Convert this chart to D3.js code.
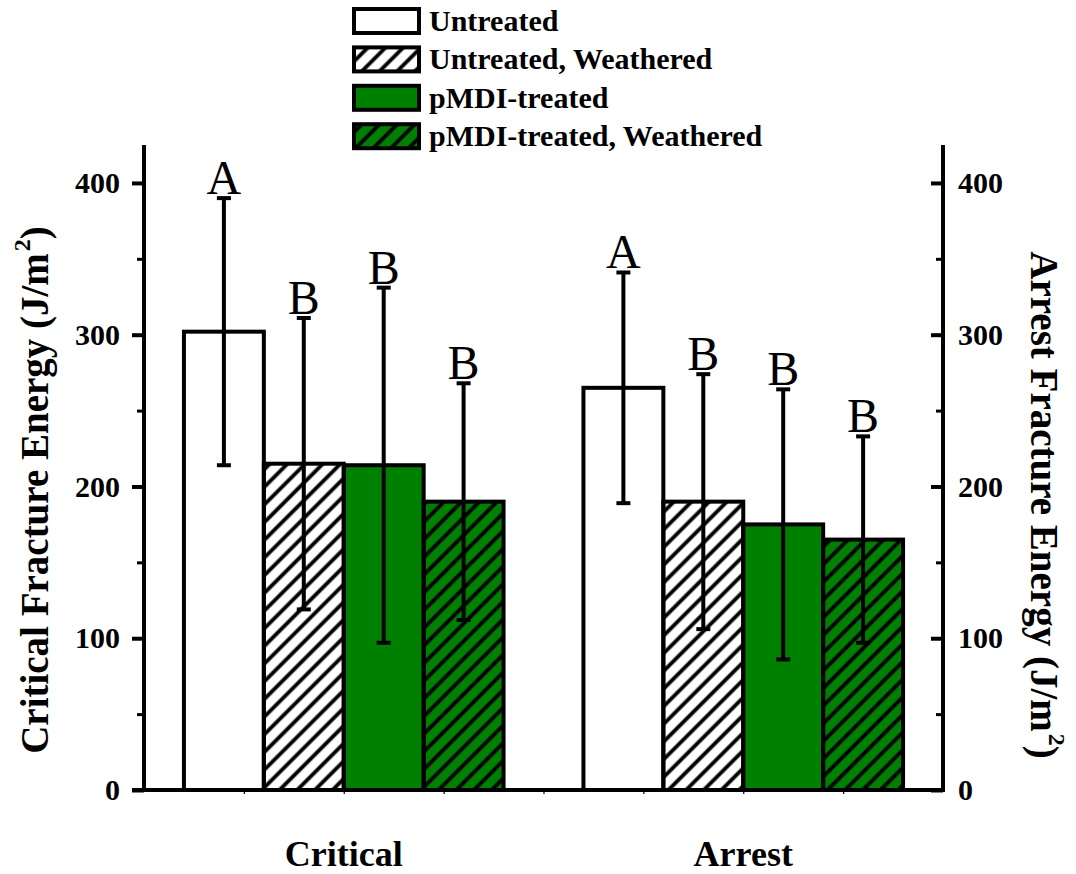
<!DOCTYPE html>
<html>
<head>
<meta charset="utf-8">
<script src="https://cdn.jsdelivr.net/npm/d3@7"></script>
<style>
  body { margin: 0; background: #fff; }
  text { font-family: "Liberation Serif", "Times New Roman", serif; }
</style>
</head>
<body>
<div id="chart"></div>
<script>
const categories = ["Critical", "Arrest"];
const series = ["Untreated", "Untreated, Weathered", "pMDI-treated", "pMDI-treated, Weathered"];
const criticalMean = [302, 215, 214, 190];
const criticalErr = [88, 96, 117, 78];
const arrestMean = [265, 190, 175, 165];
const arrestErr = [76, 84, 89, 68];
const criticalLetters = ["A", "B", "B", "B"];
const arrestLetters = ["A", "B", "B", "B"];
const yTicks = [0, 100, 200, 300, 400];
const yMinorTicks = [50, 150, 250, 350];

const green = "#008000";
const fills = ["#fff", "#fff", green, green];
const hatched = [false, true, false, true];

let width = 1076, height = 874;
let margin = { top: 145, bottom: 84, left: 144, right: 133 };

let svg = d3.select('#chart')
  .append('svg')
  .attr('width', width)
  .attr('height', height);

svg.append('rect').attr('width', width).attr('height', height).attr('fill', '#fff');

// hatch pattern, "/" lines
svg.append('defs').append('pattern')
  .attr('id', 'hatch')
  .attr('patternUnits', 'userSpaceOnUse')
  .attr('width', 12.5)
  .attr('height', 12.5)
  .attr('patternTransform', 'rotate(45)')
  .append('line')
  .attr('x1', 6.25).attr('y1', 0)
  .attr('x2', 6.25).attr('y2', 12.5)
  .attr('stroke', '#000')
  .attr('stroke-width', 3.8);

let data = [];
categories.forEach(function(c, ci) {
  let means = ci === 0 ? criticalMean : arrestMean;
  let errs = ci === 0 ? criticalErr : arrestErr;
  let letters = ci === 0 ? criticalLetters : arrestLetters;
  series.forEach(function(s, si) {
    data.push({ cat: c, s: s, si: si, mean: means[si], err: errs[si], letter: letters[si] });
  });
});

let xscale = d3.scaleBand()
  .domain(categories)
  .range([margin.left, width - margin.right]);

let xinner = d3.scaleBand()
  .domain(series)
  .range([0, xscale.bandwidth() * 0.8]);

let yscale = d3.scaleLinear()
  .domain([0, 425])
  .range([height - margin.bottom, margin.top]);

const barX = d => xscale(d.cat) + xscale.bandwidth() * 0.1 + xinner(d.s);
const barMid = d => barX(d) + xinner.bandwidth() / 2;

// bars
let bars = svg.append('g');
bars.selectAll('rect.fill')
  .data(data)
  .enter().append('rect')
  .attr('x', barX)
  .attr('y', d => yscale(d.mean))
  .attr('width', xinner.bandwidth())
  .attr('height', d => yscale(0) - yscale(d.mean))
  .attr('fill', d => fills[d.si]);

bars.selectAll('rect.hatch')
  .data(data.filter(d => hatched[d.si]))
  .enter().append('rect')
  .attr('x', barX)
  .attr('y', d => yscale(d.mean))
  .attr('width', xinner.bandwidth())
  .attr('height', d => yscale(0) - yscale(d.mean))
  .attr('fill', 'url(#hatch)');

bars.selectAll('rect.edge')
  .data(data)
  .enter().append('rect')
  .attr('x', barX)
  .attr('y', d => yscale(d.mean))
  .attr('width', xinner.bandwidth())
  .attr('height', d => yscale(0) - yscale(d.mean))
  .attr('fill', 'none')
  .attr('stroke', '#000')
  .attr('stroke-width', 4);

// error bars
let eb = svg.append('g').attr('stroke', '#000').attr('stroke-width', 4);
eb.selectAll('line.v')
  .data(data)
  .enter().append('line')
  .attr('x1', barMid).attr('x2', barMid)
  .attr('y1', d => yscale(d.mean - d.err))
  .attr('y2', d => yscale(d.mean + d.err));
eb.selectAll('line.top')
  .data(data)
  .enter().append('line')
  .attr('x1', d => barMid(d) - 7).attr('x2', d => barMid(d) + 7)
  .attr('y1', d => yscale(d.mean + d.err)).attr('y2', d => yscale(d.mean + d.err));
eb.selectAll('line.bot')
  .data(data)
  .enter().append('line')
  .attr('x1', d => barMid(d) - 7).attr('x2', d => barMid(d) + 7)
  .attr('y1', d => yscale(d.mean - d.err)).attr('y2', d => yscale(d.mean - d.err));

// significance letters
svg.append('g').selectAll('text')
  .data(data)
  .enter().append('text')
  .attr('x', barMid)
  .attr('y', d => yscale(d.mean + d.err) - 4)
  .attr('text-anchor', 'middle')
  .style('font-size', '48px')
  .text(d => d.letter);

// axes
function styleAxis(g, w) {
  g.select('.domain').remove();
  g.selectAll('line').attr('stroke', '#000').attr('stroke-width', w);
  g.selectAll('text')
    .attr('fill', '#000')
    .style('font-family', '"Liberation Serif", serif')
    .style('font-weight', 'bold')
    .style('font-size', '30px');
}

svg.append('g')
  .attr('transform', `translate(${margin.left},0)`)
  .call(d3.axisLeft(yscale).tickValues(yMinorTicks).tickSize(7).tickFormat(''))
  .call(g => styleAxis(g, 3));
svg.append('g')
  .attr('transform', `translate(${margin.left},0)`)
  .call(d3.axisLeft(yscale).tickValues(yTicks).tickSize(12).tickPadding(12))
  .call(g => styleAxis(g, 4));

svg.append('g')
  .attr('transform', `translate(${width - margin.right},0)`)
  .call(d3.axisRight(yscale).tickValues(yMinorTicks).tickSize(-7).tickFormat(''))
  .call(g => styleAxis(g, 3));
svg.append('g')
  .attr('transform', `translate(${width - margin.right},0)`)
  .call(d3.axisRight(yscale).tickValues(yTicks).tickSize(-12).tickPadding(15))
  .call(g => styleAxis(g, 4));

// small ticks on the x axis
let xminor = d3.scaleLinear().domain([0, 8]).range([margin.left, width - margin.right]);
svg.append('g')
  .attr('transform', `translate(0,${yscale(0)})`)
  .call(d3.axisBottom(xminor).tickValues(d3.range(1, 8)).tickSize(4).tickFormat(''))
  .call(g => styleAxis(g, 1.2));

// axis lines
svg.append('line')
  .attr('x1', margin.left).attr('x2', margin.left)
  .attr('y1', yscale(425)).attr('y2', yscale(0))
  .attr('stroke', '#000').attr('stroke-width', 4);
svg.append('line')
  .attr('x1', width - margin.right).attr('x2', width - margin.right)
  .attr('y1', yscale(425)).attr('y2', yscale(0))
  .attr('stroke', '#000').attr('stroke-width', 4);
svg.append('line')
  .attr('x1', margin.left - 12).attr('x2', width - margin.right + 2)
  .attr('y1', yscale(0)).attr('y2', yscale(0))
  .attr('stroke', '#000').attr('stroke-width', 4);

// category labels
svg.append('g').selectAll('text')
  .data(categories)
  .enter().append('text')
  .attr('x', d => xscale(d) + xscale.bandwidth() / 2)
  .attr('y', 866)
  .attr('text-anchor', 'middle')
  .style('font-weight', 'bold')
  .style('font-size', '36px')
  .text(d => d);

// axis titles
function axisTitle(t, label) {
  t.style('font-weight', 'bold').style('font-size', '39px').attr('text-anchor', 'middle');
  t.append('tspan').text(label + ' (J/m');
  t.append('tspan').attr('dy', -18).attr('dx', 2).style('font-size', '24px').text('2');
  t.append('tspan').attr('dy', 18).text(')');
}

svg.append('text')
  .attr('transform', 'rotate(-90)')
  .attr('x', -490)
  .attr('y', 48)
  .call(t => axisTitle(t, 'Critical Fracture Energy'));

svg.append('text')
  .attr('transform', 'rotate(90)')
  .attr('x', 505)
  .attr('y', -1031)
  .call(t => axisTitle(t, 'Arrest Fracture Energy'));

// legend
let legend = svg.append('g');
let rowY = i => 21 + i * 38.4;
legend.selectAll('rect.f')
  .data(series)
  .enter().append('rect')
  .attr('x', 354).attr('y', (d, i) => rowY(i) - 12)
  .attr('width', 65).attr('height', 24)
  .attr('fill', (d, i) => fills[i]);
legend.selectAll('rect.h')
  .data(series.filter((d, i) => hatched[i]))
  .enter().append('rect')
  .attr('x', 354).attr('y', d => rowY(series.indexOf(d)) - 12)
  .attr('width', 65).attr('height', 24)
  .attr('fill', 'url(#hatch)');
legend.selectAll('rect.e')
  .data(series)
  .enter().append('rect')
  .attr('x', 354).attr('y', (d, i) => rowY(i) - 12)
  .attr('width', 65).attr('height', 24)
  .attr('fill', 'none')
  .attr('stroke', '#000').attr('stroke-width', 4);
legend.selectAll('text')
  .data(series)
  .enter().append('text')
  .attr('x', 429)
  .attr('y', (d, i) => rowY(i) + 10)
  .style('font-weight', 'bold')
  .style('font-size', '30px')
  .text(d => d);
</script>
</body>
</html>
